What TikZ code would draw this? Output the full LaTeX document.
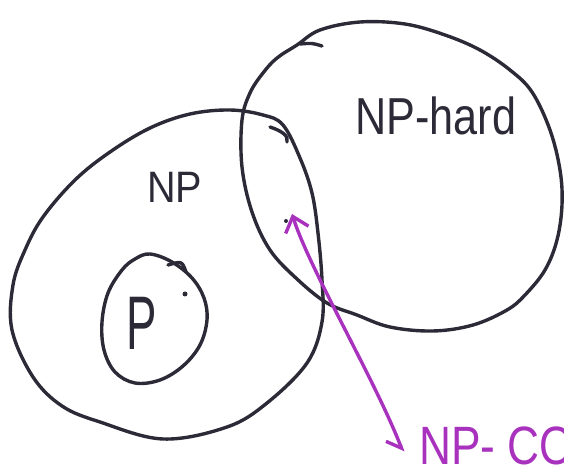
\documentclass[tikz,border=0pt]{standalone}
\usepackage{fontspec}
\setmainfont{Liberation Sans}
\usetikzlibrary{arrows.meta}
\definecolor{ink}{RGB}{45,42,56}
\definecolor{pen}{RGB}{168,50,190}

\begin{document}
\begin{tikzpicture}[x=0.5pt, y=-0.5pt, line cap=round, line join=round,
  outline/.style={draw=ink, line width=1.7pt},
  hand/.style={inner sep=0pt, anchor=base west, text=ink}]
  \useasboundingbox (0,0) rectangle (564,476);
  % NP
  \draw[outline] plot[smooth cycle, tension=0.6] coordinates {
    (283,125) (300,158) (312,193) (318,233) (322,280) (322,322) (307,363)
    (267,403) (227,427) (163,439) (100,422) (62,406) (33,377) (12,330)
    (13,285) (25,250) (43,217) (75,180) (110,152) (150,128) (190,114)
    (230,110) (263,115)};
  \draw[outline] (270,127) .. controls (282,131) and (289,136) .. (287,142);
  % NP-hard
  \draw[outline] plot[smooth cycle, tension=0.6] coordinates {
    (297,45) (320,30) (360,22) (405,24) (445,35) (480,50) (510,70) (532,92)
    (550,130) (560,170) (562,205) (557,240) (545,270) (525,295) (507,310)
    (473,325) (433,331) (390,327) (357,315) (327,303) (297,279) (270,250)
    (252,212) (242,167) (242,120) (250,93) (263,73) (277,58)};
  \draw[outline] (322,46) .. controls (312,43) .. (300,44);
  % P
  \draw[outline] plot[smooth cycle, tension=0.6] coordinates {
    (150,254) (172,262) (192,278) (204,298) (207,320) (200,345) (183,366)
    (160,380) (135,383) (115,372) (104,350) (102,322) (108,293) (122,270)
    (135,259)};
  \draw[outline] (168,265) .. controls (182,261) .. (186,272);
  \fill[ink] (185,294) circle (2.5);
  \fill[ink] (286,221) circle (2);

  \node[hand, font=\fontsize{22}{22}\selectfont, xscale=0.9] (np) at (147,203) {NP};
  \node[hand, font=\fontsize{26}{26}\selectfont, xscale=0.83] (nphard) at (355,135) {NP-hard};
  \node[hand, font=\fontsize{38}{38}\selectfont, xscale=0.6] (p) at (126,350) {P};
  \node[hand, text=pen, font=\fontsize{27}{27}\selectfont, xscale=0.82] (npco) at (419,465) {NP- CO};

  \coordinate (cotip) at (292,214);
  \coordinate (cotail) at (403,452);
  \draw[pen, line width=1.7pt,
    {Straight Barb[harpoon, swap, length=6pt, width=12pt]}-{Straight Barb[length=7pt, width=12pt]}]
    (cotail) .. controls (375,380) and (310,270) .. (cotip);
\end{tikzpicture}
\end{document}
